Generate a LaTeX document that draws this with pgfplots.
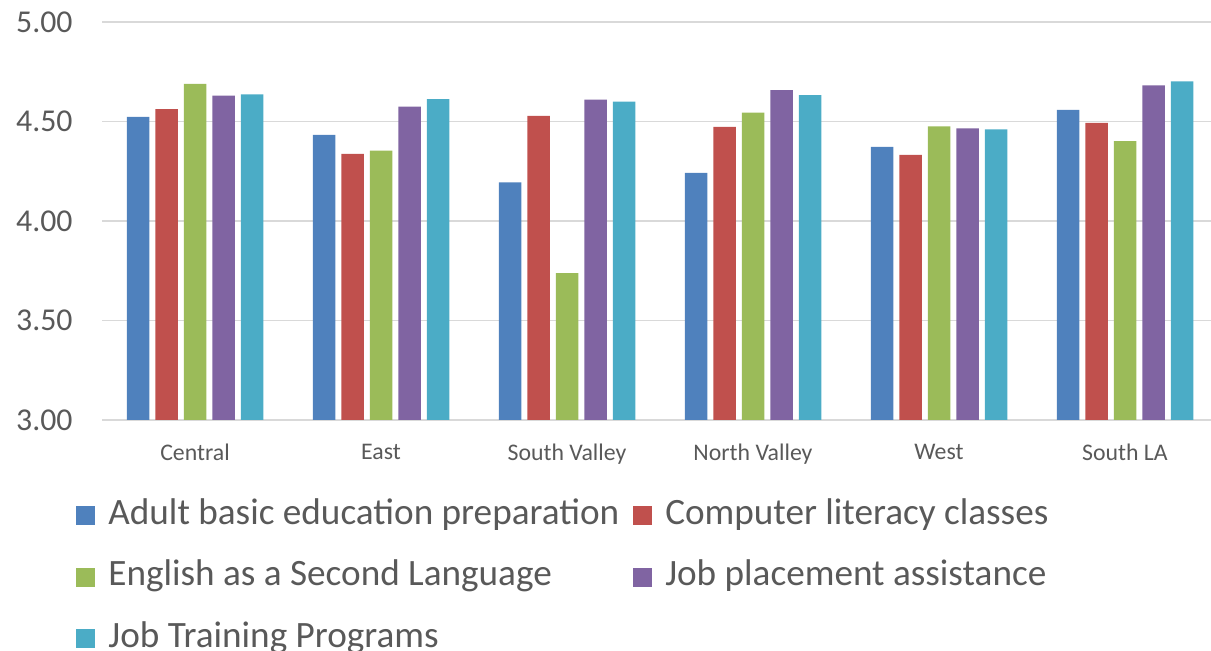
\documentclass[border=0pt]{standalone}
\usepackage{pgfplots}
\pgfplotsset{compat=1.18}
\usepackage{fontspec}
\setmainfont{Carlito}
\definecolor{cA}{HTML}{4F81BD}
\definecolor{cB}{HTML}{C0504D}
\definecolor{cC}{HTML}{9BBB59}
\definecolor{cD}{HTML}{8064A2}
\definecolor{cE}{HTML}{4BACC6}
\definecolor{txt}{HTML}{595959}
\definecolor{grd}{HTML}{D9D9D9}
\begin{document}
\begin{tikzpicture}
\begin{axis}[
  at={(51pt,115.5pt)}, anchor=south west,
  scale only axis,
  width=558pt, height=199pt,
  xmin=-0.5, xmax=5.5,
  ymin=3, ymax=5,
  ybar=3pt, bar width=11.25pt,
  xtick={0,1,2,3,4,5},
  xticklabels={Central,East,South Valley,North Valley,West,South LA},
  ytick={3,3.5,4,4.5,5},
  yticklabel={\pgfmathprintnumber[fixed,fixed zerofill,precision=2]{\tick}},
  /pgf/number format/assume math mode=true,
  axis line style={draw=none},
  major tick style={draw=none},
  ymajorgrids,
  major grid style={color=grd, line width=0.8pt},
  yticklabel style={font=\fontsize{15.9}{18}\selectfont, text=txt, inner sep=0pt, xshift=-14.5pt},
  xticklabel style={font=\fontsize{11.9}{14}\selectfont, text=txt, inner sep=0pt, anchor=north, yshift=-7.5pt},
  legend columns=2,
  legend cell align=left,
  legend style={
    at={(-0.0233,-0.196)}, anchor=north west,
    draw=none, fill=none, inner sep=0pt,
    font=\fontsize{18.6}{22}\selectfont, text=txt,
    nodes={inner sep=0pt, text height=13pt, text depth=4.5pt},
    column sep=6.5pt, row sep=13.2pt,
    /tikz/every even column/.append style={column sep=7pt},
  },
  legend image code/.code={\fill[#1] (0pt,-4.75pt) rectangle (9.5pt,4.75pt);},
]
\addplot[fill=cA, draw=none] coordinates {(0,4.523) (1,4.433) (2,4.194) (3,4.242) (4,4.372) (5,4.558)};
\addplot[fill=cB, draw=none] coordinates {(0,4.562) (1,4.337) (2,4.528) (3,4.473) (4,4.332) (5,4.493)};
\addplot[fill=cC, draw=none] coordinates {(0,4.689) (1,4.354) (2,3.738) (3,4.545) (4,4.475) (5,4.401)};
\addplot[fill=cD, draw=none] coordinates {(0,4.630) (1,4.575) (2,4.610) (3,4.657) (4,4.466) (5,4.682)};
\addplot[fill=cE, draw=none] coordinates {(0,4.636) (1,4.612) (2,4.600) (3,4.632) (4,4.461) (5,4.701)};
\legend{Adult basic education preparation, Computer literacy classes, English as a Second Language, Job placement assistance, Job Training Programs}
\end{axis}
\pgfresetboundingbox
\path[use as bounding box] (0pt,0pt) rectangle (605.5pt,325.5pt);
\end{tikzpicture}
\end{document}
